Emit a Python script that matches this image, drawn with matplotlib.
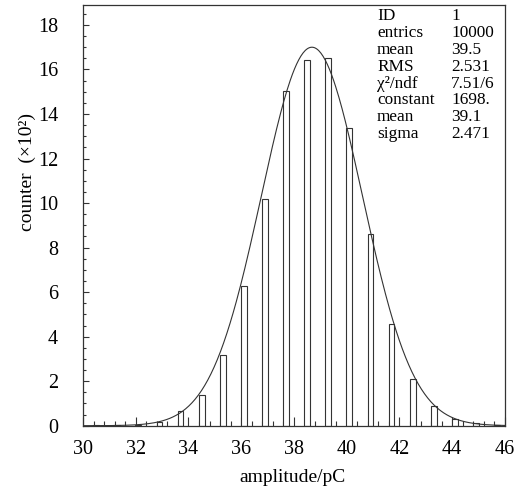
import numpy as np
import matplotlib
matplotlib.use("Agg")
import matplotlib.pyplot as plt
from matplotlib.ticker import MultipleLocator

plt.rcParams["font.family"] = ["Liberation Serif", "DejaVu Serif"]

# histogram bars (counts in units of 10^2)
bin_centers = [30.5, 31.3, 32.1, 32.9, 33.7, 34.5, 35.3, 36.1, 36.9, 37.7,
               38.5, 39.3, 40.1, 40.9, 41.7, 42.5, 43.3, 44.1, 44.9, 45.7]
counts = [0.04, 0.03, 0.05, 0.15, 0.67, 1.37, 3.18, 6.27, 10.2, 15.03,
          16.41, 16.5, 13.36, 8.63, 4.58, 2.09, 0.88, 0.29, 0.1, 0.03]

# gaussian fit as drawn
fit_const = 17.0
fit_mean = 38.68
fit_sigma = 1.92

stat_labels = ["ID", "entrics", "mean", "RMS", "\u03c7\u00b2/ndf", "constant", "mean", "sigma"]
stat_values = ["1", "10000", "39.5", "2.531", "7.51/6", "1698.", "39.1", "2.471"]

line_col = "#333333"

fig = plt.figure(figsize=(5.2, 4.91), dpi=100)
ax = fig.add_axes([0.1596, 0.1330, 0.8115, 0.8570])

ax.bar(bin_centers, counts, width=0.22, facecolor="white", edgecolor=line_col,
       linewidth=0.8, zorder=2)

xs = np.linspace(30, 46, 400)
ax.plot(xs, fit_const * np.exp(-(xs - fit_mean) ** 2 / (2 * fit_sigma ** 2)),
        color=line_col, linewidth=0.8, zorder=3)

ax.set_xlim(30, 46)
ax.set_ylim(0, 18.9)
ax.xaxis.set_major_locator(MultipleLocator(2))
ax.xaxis.set_minor_locator(MultipleLocator(0.4))
ax.yaxis.set_major_locator(MultipleLocator(2))
ax.yaxis.set_minor_locator(MultipleLocator(0.5))

for s in ax.spines.values():
    s.set_color(line_col)
    s.set_linewidth(0.9)

ax.tick_params(axis="x", which="major", direction="in", length=6.5, width=0.8,
               color=line_col, labelsize=14.5, pad=10)
ax.tick_params(axis="x", which="minor", direction="in", length=3.6, width=0.8,
               color=line_col)
ax.tick_params(axis="y", which="major", direction="in", length=4.5, width=0.8,
               color=line_col, labelsize=14.5, pad=18)
ax.tick_params(axis="y", which="minor", direction="in", length=2.5, width=0.8,
               color=line_col)

fig.text(293 / 520, 1 - 478 / 491, "amplitude/pC", fontsize=14,
         ha="center", va="center")
fig.text(27 / 520, 1 - 172 / 491, "counter  (\u00d710\u00b2)", fontsize=14,
         rotation=90, ha="center", va="center")

y0 = 16
for lab, val in zip(stat_labels, stat_values):
    fig.text(377 / 520, 1 - y0 / 491, lab, fontsize=12.4, va="center", ha="left")
    fig.text(451 / 520, 1 - y0 / 491, val, fontsize=12.4, va="center", ha="left")
    y0 += 16.9

fig.savefig("out.png", dpi=100)
